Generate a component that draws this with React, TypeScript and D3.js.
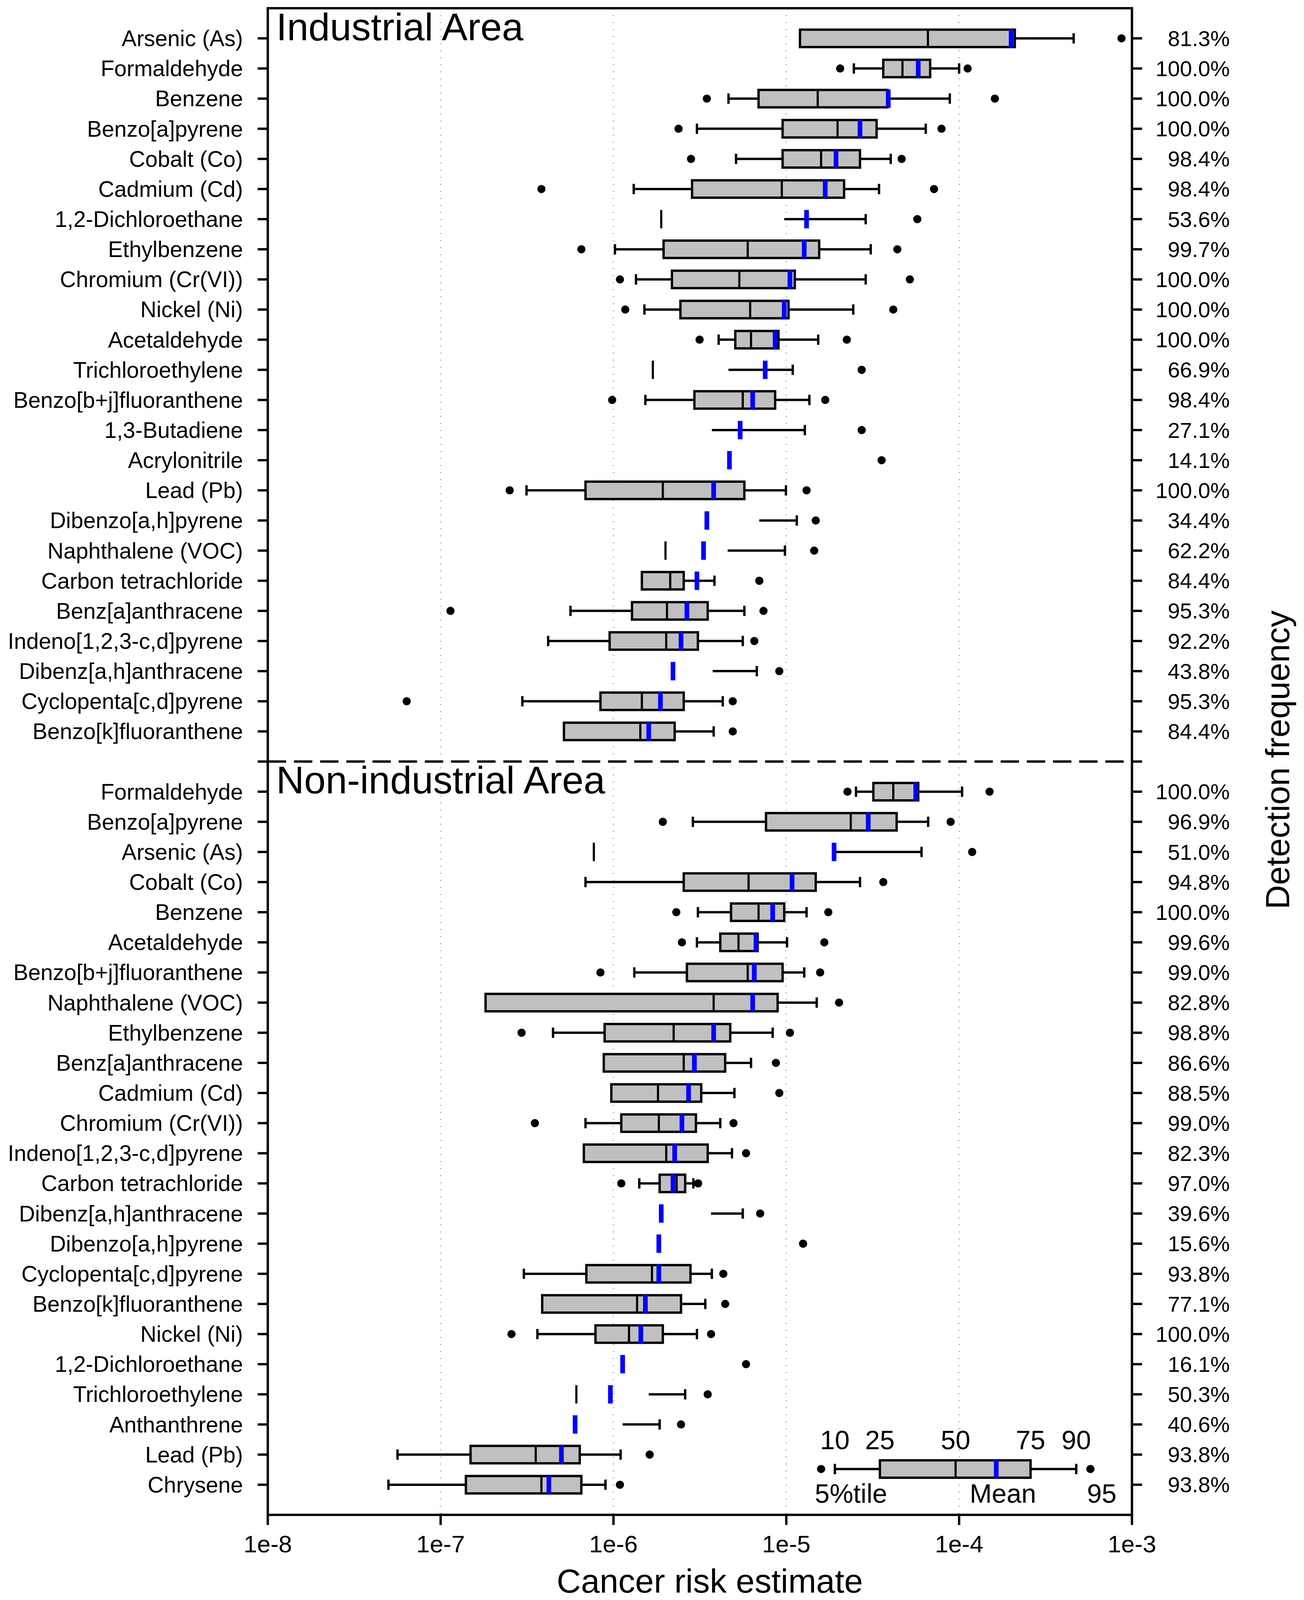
import { useEffect } from "react";
import * as d3 from "d3";

// percentiles per row: [p5, p10, p25, p50, p75, p90, p95, mean]
type Stat = (number | null)[];

const industrialNames = [
  "Arsenic (As)", "Formaldehyde", "Benzene", "Benzo[a]pyrene", "Cobalt (Co)", "Cadmium (Cd)",
  "1,2-Dichloroethane", "Ethylbenzene", "Chromium (Cr(VI))", "Nickel (Ni)", "Acetaldehyde",
  "Trichloroethylene", "Benzo[b+j]fluoranthene", "1,3-Butadiene", "Acrylonitrile", "Lead (Pb)",
  "Dibenzo[a,h]pyrene", "Naphthalene (VOC)", "Carbon tetrachloride", "Benz[a]anthracene",
  "Indeno[1,2,3-c,d]pyrene", "Dibenz[a,h]anthracene", "Cyclopenta[c,d]pyrene", "Benzo[k]fluoranthene",
];
const industrialFreq = [
  81.3, 100.0, 100.0, 100.0, 98.4, 98.4, 53.6, 99.7, 100.0, 100.0, 100.0, 66.9,
  98.4, 27.1, 14.1, 100.0, 34.4, 62.2, 84.4, 95.3, 92.2, 43.8, 95.3, 84.4,
];
const industrialStats: Stat[] = [
  [null, null, 1.2e-5, 6.6e-5, 2.1e-4, 4.6e-4, 8.7e-4, 2.0e-4],
  [2.05e-5, 2.46e-5, 3.64e-5, 4.7e-5, 6.8e-5, 1.0e-4, 1.12e-4, 5.8e-5],
  [3.47e-6, 4.63e-6, 6.91e-6, 1.52e-5, 3.85e-5, 8.83e-5, 1.61e-4, 3.89e-5],
  [2.38e-6, 3.04e-6, 9.52e-6, 1.98e-5, 3.33e-5, 6.41e-5, 7.91e-5, 2.67e-5],
  [2.81e-6, 5.12e-6, 9.52e-6, 1.59e-5, 2.67e-5, 4.02e-5, 4.65e-5, 1.94e-5],
  [3.83e-7, 1.31e-6, 2.85e-6, 9.42e-6, 2.16e-5, 3.44e-5, 7.16e-5, 1.68e-5],
  [null, null, null, 1.89e-6, 9.73e-6, 2.88e-5, 5.73e-5, 1.31e-5],
  [6.52e-7, 1.02e-6, 1.95e-6, 5.98e-6, 1.55e-5, 3.08e-5, 4.39e-5, 1.27e-5],
  [1.09e-6, 1.35e-6, 2.18e-6, 5.35e-6, 1.12e-5, 2.88e-5, 5.19e-5, 1.05e-5],
  [1.17e-6, 1.51e-6, 2.44e-6, 6.18e-6, 1.03e-5, 2.44e-5, 4.16e-5, 9.73e-6],
  [3.15e-6, 4.06e-6, 5.07e-6, 6.25e-6, 9.01e-6, 1.53e-5, 2.24e-5, 8.62e-6],
  [null, null, null, 1.69e-6, 4.63e-6, 1.09e-5, 2.73e-5, 7.55e-6],
  [9.83e-7, 1.53e-6, 2.94e-6, 5.6e-6, 8.62e-6, 1.36e-5, 1.68e-5, 6.39e-6],
  [null, null, null, null, 3.71e-6, 1.28e-5, 2.73e-5, 5.41e-6],
  [null, null, null, null, null, null, 3.56e-5, 4.69e-6],
  [2.51e-7, 3.14e-7, 6.89e-7, 1.93e-6, 5.72e-6, 9.95e-6, 1.31e-5, 3.8e-6],
  [null, null, null, null, 6.98e-6, 1.15e-5, 1.48e-5, 3.47e-6],
  [null, null, null, 2.0e-6, 4.58e-6, 9.82e-6, 1.45e-5, 3.32e-6],
  [null, null, 1.46e-6, 2.13e-6, 2.55e-6, 3.84e-6, 6.98e-6, 3.04e-6],
  [1.14e-7, 5.64e-7, 1.28e-6, 2.04e-6, 3.51e-6, 5.72e-6, 7.38e-6, 2.66e-6],
  [null, 4.19e-7, 9.5e-7, 2.02e-6, 3.08e-6, 5.6e-6, 6.53e-6, 2.46e-6],
  [null, null, null, null, 3.75e-6, 6.75e-6, 9.11e-6, 2.21e-6],
  [6.36e-8, 2.97e-7, 8.41e-7, 1.46e-6, 2.55e-6, 4.29e-6, 4.9e-6, 1.87e-6],
  [null, null, 5.17e-7, 1.43e-6, 2.26e-6, 3.8e-6, 4.9e-6, 1.6e-6],
];

const nonIndustrialNames = [
  "Formaldehyde", "Benzo[a]pyrene", "Arsenic (As)", "Cobalt (Co)", "Benzene", "Acetaldehyde",
  "Benzo[b+j]fluoranthene", "Naphthalene (VOC)", "Ethylbenzene", "Benz[a]anthracene", "Cadmium (Cd)",
  "Chromium (Cr(VI))", "Indeno[1,2,3-c,d]pyrene", "Carbon tetrachloride", "Dibenz[a,h]anthracene",
  "Dibenzo[a,h]pyrene", "Cyclopenta[c,d]pyrene", "Benzo[k]fluoranthene", "Nickel (Ni)",
  "1,2-Dichloroethane", "Trichloroethylene", "Anthanthrene", "Lead (Pb)", "Chrysene",
];
const nonIndustrialFreq = [
  100.0, 96.9, 51.0, 94.8, 100.0, 99.6, 99.0, 82.8, 98.8, 86.6, 88.5, 99.0,
  82.3, 97.0, 39.6, 15.6, 93.8, 77.1, 100.0, 16.1, 50.3, 40.6, 93.8, 93.8,
];
const nonIndustrialStats: Stat[] = [
  [2.26e-5, 2.53e-5, 3.19e-5, 4.16e-5, 5.8e-5, 1.04e-4, 1.5e-4, 5.61e-5],
  [1.93e-6, 2.88e-6, 7.63e-6, 2.36e-5, 4.35e-5, 6.62e-5, 8.93e-5, 2.98e-5],
  [null, null, null, 7.7e-7, 1.94e-5, 6.06e-5, 1.19e-4, 1.89e-5],
  [null, 6.89e-7, 2.55e-6, 6.05e-6, 1.48e-5, 2.67e-5, 3.64e-5, 1.08e-5],
  [2.31e-6, 3.08e-6, 4.79e-6, 6.91e-6, 9.73e-6, 1.31e-5, 1.75e-5, 8.34e-6],
  [2.49e-6, 3.04e-6, 4.15e-6, 5.29e-6, 6.83e-6, 1.01e-5, 1.66e-5, 6.68e-6],
  [8.41e-7, 1.32e-6, 2.66e-6, 5.98e-6, 9.52e-6, 1.27e-5, 1.57e-5, 6.53e-6],
  [null, null, 1.82e-7, 3.8e-6, 8.91e-6, 1.5e-5, 2.02e-5, 6.39e-6],
  [2.94e-7, 4.47e-7, 8.89e-7, 2.23e-6, 4.74e-6, 8.34e-6, 1.05e-5, 3.8e-6],
  [null, null, 8.79e-7, 2.55e-6, 4.43e-6, 6.25e-6, 8.71e-6, 2.94e-6],
  [null, null, 9.72e-7, 1.81e-6, 3.22e-6, 5.01e-6, 9.11e-6, 2.72e-6],
  [3.51e-7, 6.89e-7, 1.11e-6, 1.83e-6, 3.0e-6, 4.15e-6, 4.95e-6, 2.49e-6],
  [null, null, 6.74e-7, 2.02e-6, 3.51e-6, 4.85e-6, 5.85e-6, 2.26e-6],
  [1.11e-6, 1.41e-6, 1.85e-6, 2.32e-6, 2.6e-6, 2.9e-6, 3.09e-6, 2.21e-6],
  [null, null, null, null, 3.67e-6, 5.6e-6, 7.06e-6, 1.89e-6],
  [null, null, null, null, null, null, 1.25e-5, 1.83e-6],
  [null, 3.03e-7, 6.97e-7, 1.67e-6, 2.79e-6, 3.71e-6, 4.32e-6, 1.83e-6],
  [null, null, 3.87e-7, 1.37e-6, 2.46e-6, 3.4e-6, 4.43e-6, 1.53e-6],
  [2.57e-7, 3.63e-7, 7.87e-7, 1.23e-6, 1.93e-6, 3.04e-6, 3.67e-6, 1.44e-6],
  [null, null, null, null, null, null, 5.85e-6, 1.13e-6],
  [null, null, null, 6.1e-7, 1.6e-6, 2.6e-6, 3.51e-6, 9.6e-7],
  [null, null, null, null, 1.13e-6, 1.85e-6, 2.46e-6, 6.0e-7],
  [null, 5.63e-8, 1.49e-7, 3.55e-7, 6.38e-7, 1.1e-6, 1.62e-6, 5.0e-7],
  [null, 4.99e-8, 1.4e-7, 3.83e-7, 6.52e-7, 8.99e-7, 1.09e-6, 4.23e-7],
];

// sample box in the lower right corner
const legendStats: Stat = [1.59e-5, 1.91e-5, 3.48e-5, 9.54e-5, 2.59e-4, 4.76e-4, 5.75e-4, 1.64e-4];
const legendTopLabels = ["10", "25", "50", "75", "90"];

const xTicks = [1e-8, 1e-7, 1e-6, 1e-5, 1e-4, 1e-3];
const gridTicks = [1e-7, 1e-6, 1e-5, 1e-4];

// the browser viewport is only 4096 tall, so the vertical layout is squeezed to fit
const W = 3338;
const H = 4096;
const sy = H / 4961;
const left = 685.5;
const right = 2897.6;
const top = 25.5 * sy;
const bottom = 4697 * sy;
const FONT = "'Liberation Sans', Arial, Helvetica, sans-serif";

const boxH = 27 * sy;
const capH = 16 * sy;
const meanH = 28.5 * sy;

const x = d3.scaleLog().domain([1e-8, 1e-3]).range([left, right]);
const keys = [
  ...industrialNames.map((_, i) => `I${i}`),
  "div",
  ...nonIndustrialNames.map((_, i) => `N${i}`),
];
const y = d3.scalePoint<string>().domain(keys).range([top, bottom]).padding(1);

function BoxMark({ s, cy }: { s: Stat; cy: number }) {
  const [p5, p10, p25, p50, p75, p90, p95, mean] = s;
  const hasBox = p25 != null && p75 != null;
  const medH = hasBox ? boxH - 1 : meanH;
  return (
    <g>
      {p10 != null && p25 != null && (
        <line x1={x(p10)} x2={x(p25)} y1={cy} y2={cy} stroke="#000" strokeWidth={6} />
      )}
      {p10 != null && (
        <line x1={x(p10)} x2={x(p10)} y1={cy - capH} y2={cy + capH} stroke="#000" strokeWidth={6} />
      )}
      {p75 != null && p90 != null && (
        <line x1={x(p75)} x2={x(p90)} y1={cy} y2={cy} stroke="#000" strokeWidth={6} />
      )}
      {p90 != null && (
        <line x1={x(p90)} x2={x(p90)} y1={cy - capH} y2={cy + capH} stroke="#000" strokeWidth={6} />
      )}
      {hasBox && (
        <rect
          x={x(p25!)}
          y={cy - boxH}
          width={x(p75!) - x(p25!)}
          height={boxH * 2}
          fill="#c0c0c0"
          stroke="#000"
          strokeWidth={6}
        />
      )}
      {p50 != null && (
        <line x1={x(p50)} x2={x(p50)} y1={cy - medH} y2={cy + medH} stroke="#000" strokeWidth={5.5} />
      )}
      {p5 != null && <circle cx={x(p5)} cy={cy} r={10.5} fill="#000" />}
      {p95 != null && <circle cx={x(p95)} cy={cy} r={10.5} fill="#000" />}
      {mean != null && (
        <line x1={x(mean)} x2={x(mean)} y1={cy - meanH} y2={cy + meanH} stroke="#0000ff" strokeWidth={12} />
      )}
    </g>
  );
}

export default function App() {
  useEffect(() => {
    document.body.style.margin = "0";
  }, []);

  const rows = [
    ...industrialNames.map((name, i) => ({ key: `I${i}`, name, freq: industrialFreq[i], s: industrialStats[i] })),
    ...nonIndustrialNames.map((name, i) => ({ key: `N${i}`, name, freq: nonIndustrialFreq[i], s: nonIndustrialStats[i] })),
  ];

  const legendY = (y("N22")! + y("N23")!) / 2 - 2 * sy;
  const l5 = legendStats[0] as number;
  const lMean = legendStats[7] as number;
  const l95 = legendStats[6] as number;
  const topPos = legendStats.slice(1, 6) as number[];

  return (
    <svg width={W} height={H} viewBox={`0 0 ${W} ${H}`} style={{ display: "block", background: "#fff" }} fontFamily={FONT}>
      <rect width={W} height={H} fill="#fff" />

      {/* dotted grid */}
      {gridTicks.map((t) => (
        <line
          key={t}
          x1={x(t)}
          x2={x(t)}
          y1={top}
          y2={bottom}
          stroke="#8c8c8c"
          strokeWidth={4}
          strokeDasharray="1.5 16.5"
        />
      ))}

      {/* separator between the two areas */}
      <line x1={left} x2={right} y1={y("div")} y2={y("div")} stroke="#000" strokeWidth={6} strokeDasharray="47 20" />

      {rows.map((r) => (
        <BoxMark key={r.key} s={r.s} cy={y(r.key)!} />
      ))}

      {/* frame */}
      <rect x={left} y={top} width={right - left} height={bottom - top} fill="none" stroke="#000" strokeWidth={6} />

      {/* left / right ticks */}
      {keys.map((k) => (
        <g key={k}>
          <line x1={left - 26} x2={left} y1={y(k)} y2={y(k)} stroke="#000" strokeWidth={6} />
          <line x1={right} x2={right + 26} y1={y(k)} y2={y(k)} stroke="#000" strokeWidth={6} />
        </g>
      ))}

      {rows.map((r) => (
        <g key={`t${r.key}`}>
          <text x={622} y={y(r.key)} dy="0.35em" textAnchor="end" fontSize={57} fill="#000">
            {r.name}
          </text>
          <text x={3148} y={y(r.key)} dy="0.35em" textAnchor="end" fontSize={56} fill="#000">
            {r.freq.toFixed(1)}%
          </text>
        </g>
      ))}

      {/* bottom axis */}
      {xTicks.map((t) => (
        <g key={t}>
          <line x1={x(t)} x2={x(t)} y1={bottom} y2={bottom + 26} stroke="#000" strokeWidth={6} />
          <text x={x(t)} y={4813 * sy} textAnchor="middle" fontSize={62} fill="#000">
            {`1e${Math.round(Math.log10(t))}`}
          </text>
        </g>
      ))}

      <text x={1817} y={4938 * sy} textAnchor="middle" fontSize={86} fill="#000">
        Cancer risk estimate
      </text>
      <text transform={`translate(3300,${2356 * sy}) rotate(-90)`} textAnchor="middle" fontSize={86} fill="#000">
        Detection frequency
      </text>

      <text x={707} y={y("I0")! + 5} fontSize={99} fill="#000">
        Industrial Area
      </text>
      <text x={707} y={y("N0")! + 4} fontSize={99} fill="#000">
        Non-industrial Area
      </text>

      {/* legend */}
      <BoxMark s={legendStats} cy={legendY} />
      {legendTopLabels.map((lab, i) => (
        <text key={lab} x={x(topPos[i])} y={legendY - 61 * sy} textAnchor="middle" fontSize={68} fill="#000">
          {lab}
        </text>
      ))}
      <text x={x(l5) - 16} y={legendY + 104 * sy} fontSize={68} fill="#000">
        5%tile
      </text>
      <text x={x(lMean) + 17} y={legendY + 104 * sy} textAnchor="middle" fontSize={68} fill="#000">
        Mean
      </text>
      <text x={x(l95) + 29} y={legendY + 104 * sy} textAnchor="middle" fontSize={68} fill="#000">
        95
      </text>
    </svg>
  );
}
